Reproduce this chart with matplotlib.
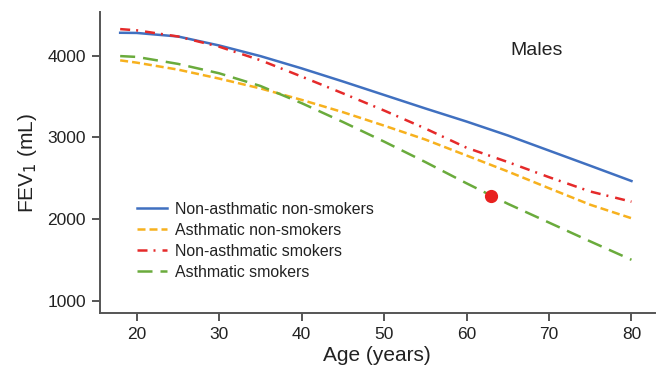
import matplotlib
matplotlib.use("Agg")
import matplotlib.pyplot as plt
import numpy as np

plt.rcParams['font.family'] = ['Liberation Sans', 'DejaVu Sans']

# Predicted FEV1 (mL) by age for males
ages = [18, 20, 25, 30, 35, 40, 45, 50, 55, 60, 65, 70, 75, 80]
non_asthmatic_non_smokers = [4280, 4278, 4235, 4125, 3995, 3845, 3685, 3520, 3355, 3195, 3025, 2840, 2655, 2468]
asthmatic_non_smokers = [3943, 3915, 3830, 3720, 3600, 3460, 3310, 3145, 2975, 2780, 2585, 2380, 2178, 2013]
non_asthmatic_smokers = [4325, 4310, 4235, 4110, 3945, 3745, 3540, 3330, 3110, 2875, 2700, 2515, 2340, 2215]
asthmatic_smokers = [3995, 3985, 3900, 3785, 3630, 3420, 3190, 2950, 2700, 2440, 2190, 1960, 1730, 1505]

highlight_age = 63
highlight_fev1 = 2280

series_labels = ["Non-asthmatic non-smokers", "Asthmatic non-smokers",
                 "Non-asthmatic smokers", "Asthmatic smokers"]
x_ticks = [20, 30, 40, 50, 60, 70, 80]
y_ticks = [1000, 2000, 3000, 4000]

fig = plt.figure(figsize=(6.62, 3.75), dpi=100)
ax = fig.add_axes([0.151, 0.165, 0.838, 0.803])

lw = 1.8
ax.plot(ages, non_asthmatic_non_smokers, color="#4070c0", lw=lw,
        linestyle="-", label=series_labels[0])
ax.plot(ages, asthmatic_non_smokers, color="#f7b11e", lw=lw,
        linestyle=(0, (3.2, 1.6)), label=series_labels[1])
ax.plot(ages, non_asthmatic_smokers, color="#e52a2a", lw=lw,
        linestyle=(0, (4.0, 2.4, 0.8, 2.8)), label=series_labels[2])
ax.plot(ages, asthmatic_smokers, color="#6aab3c", lw=lw,
        linestyle=(0, (6.0, 3.2)), label=series_labels[3])

ax.plot([highlight_age], [highlight_fev1], "o", color="#e8211f",
        markersize=8.5, zorder=5)

ax.set_xlim(15.55, 82.82)
ax.set_ylim(853, 4534)
ax.set_xticks(x_ticks)
ax.set_yticks(y_ticks)

for side in ("top", "right"):
    ax.spines[side].set_visible(False)
for side in ("left", "bottom"):
    ax.spines[side].set_color("#555555")
    ax.spines[side].set_linewidth(1.4)

ax.tick_params(axis="both", colors="#555555", width=1.4, length=6,
               labelsize=12.5, labelcolor="#222222", pad=4)

ax.set_xlabel("Age (years)", fontsize=15, color="#222222", labelpad=3)
ax.set_ylabel("FEV$_1$ (mL)", fontsize=15, color="#222222", labelpad=6)

ax.text(0.787, 0.872, "Males", transform=ax.transAxes, fontsize=14,
        color="#222222", ha="center", va="center")

leg = ax.legend(loc="upper left", bbox_to_anchor=(0.066, 0.37),
                frameon=False, fontsize=11.4, handlelength=1.9,
                handletextpad=0.55, labelspacing=0.38, borderpad=0,
                borderaxespad=0)
for t in leg.get_texts():
    t.set_color("#222222")

fig.savefig("out.png", dpi=100)
